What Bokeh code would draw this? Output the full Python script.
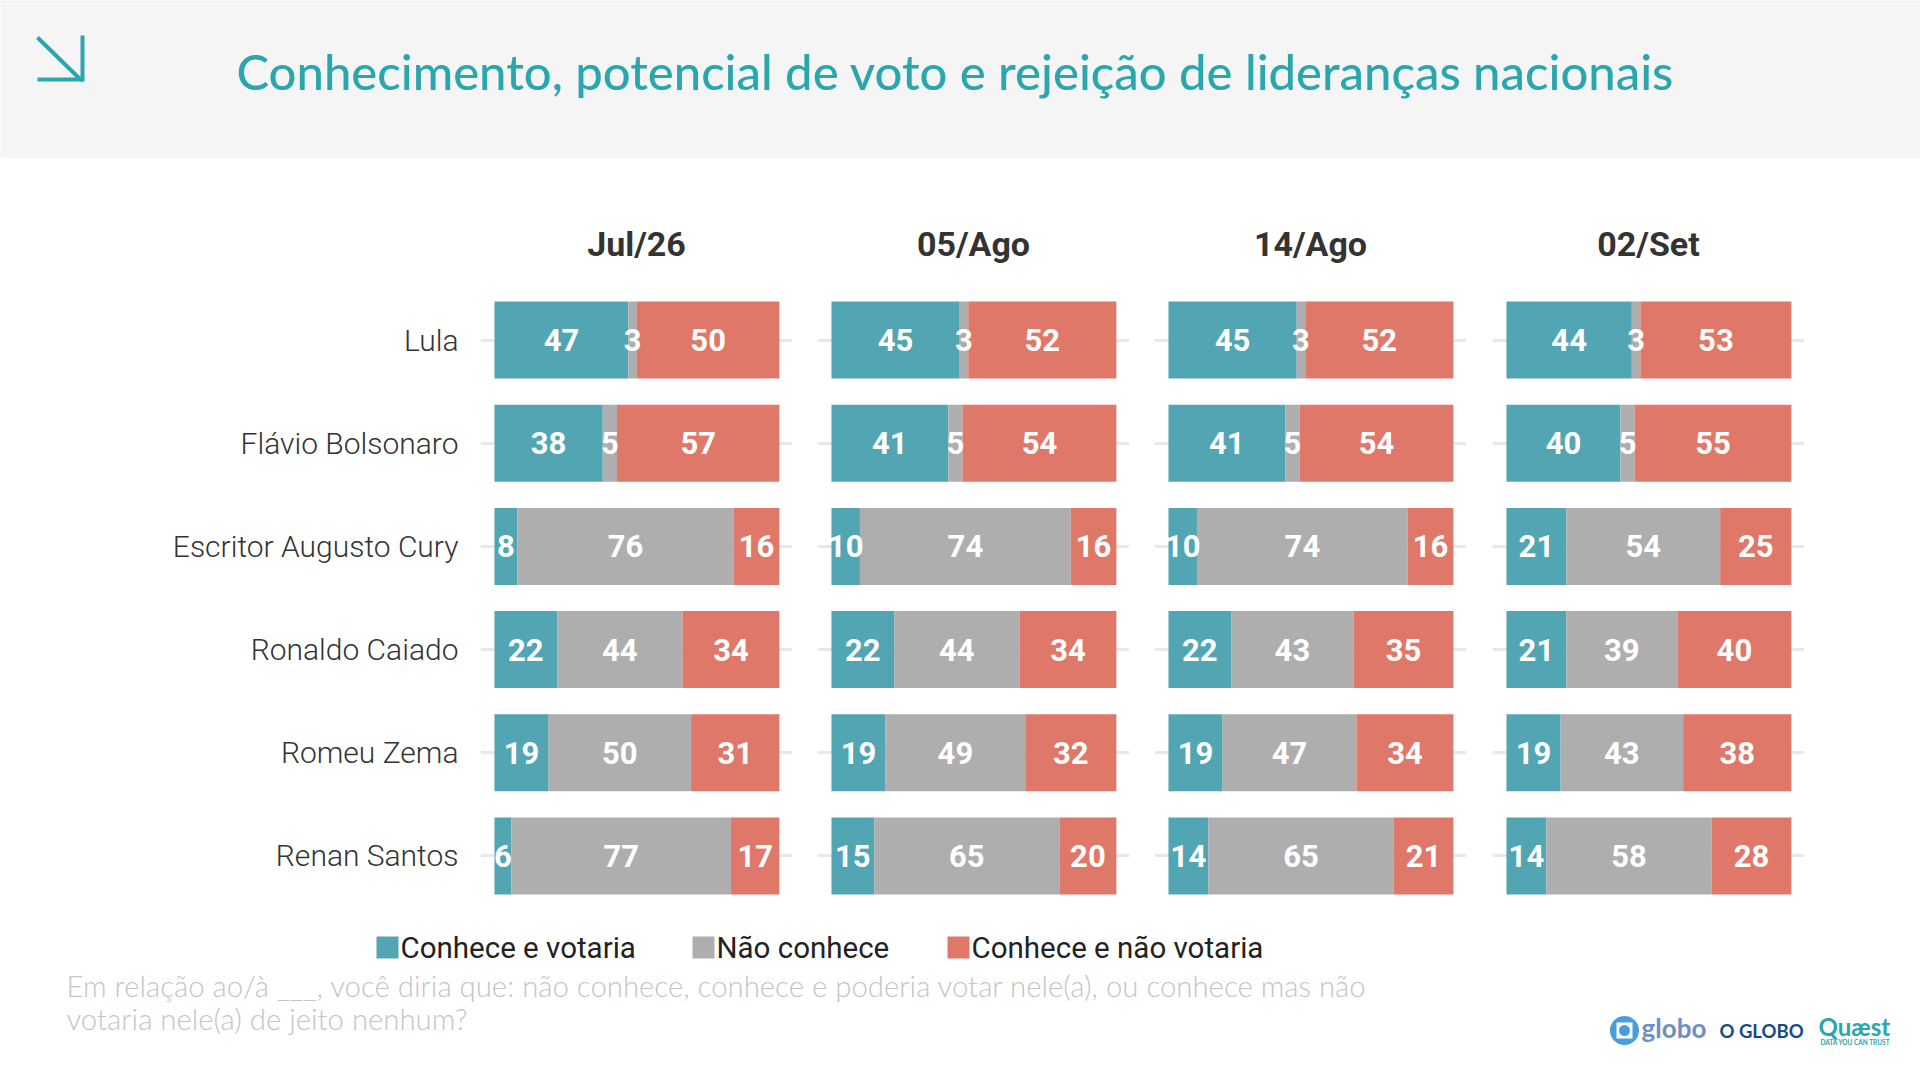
from bokeh.core.properties import value
from bokeh.embed import file_html
from bokeh.resources import INLINE
from bokeh.plotting import figure
from bokeh.layouts import column, row
from bokeh.models import ColumnDataSource, FactorRange, Range1d

TITLE = "Conhecimento, potencial de voto e rejeição de lideranças nacionais"
NAMES = ["Lula", "Flávio Bolsonaro", "Escritor Augusto Cury", "Ronaldo Caiado", "Romeu Zema", "Renan Santos"]
PERIODS = ["Jul/26", "05/Ago", "14/Ago", "02/Set"]
SERIES = ["Conhece e votaria", "Não conhece", "Conhece e não votaria"]
COLORS = ["#52a6b3", "#aeaeae", "#df7868"]

votaria = [
    [47, 38, 8, 22, 19, 6],
    [45, 41, 10, 22, 19, 15],
    [45, 41, 10, 22, 19, 14],
    [44, 40, 21, 21, 19, 14],
]
nao_conhece = [
    [3, 5, 76, 44, 50, 77],
    [3, 5, 74, 44, 49, 65],
    [3, 5, 74, 43, 47, 65],
    [3, 5, 54, 39, 43, 58],
]
nao_votaria = [
    [50, 57, 16, 34, 31, 17],
    [52, 54, 16, 34, 32, 20],
    [52, 54, 16, 35, 34, 21],
    [53, 55, 25, 40, 38, 28],
]
NOTE = [
    "Em relação ao/à ___, você diria que:  não conhece, conhece e poderia votar nele(a), ou conhece mas não",
    "votaria nele(a) de jeito nenhum?",
]

TEAL = "#2aa6ad"


def canvas(h, y0, y1):
    p = figure(width=1920, height=h, x_range=Range1d(0, 1920), y_range=Range1d(y1, y0),
               output_backend="svg", toolbar_location=None,
               min_border=0, min_border_left=0, min_border_right=0, min_border_top=0, min_border_bottom=0)
    p.axis.visible = False
    p.grid.visible = False
    p.outline_line_color = None
    return p


# header
head = canvas(158, 0, 158)
head.background_fill_color = "#f5f5f6"
head.multi_line([[37, 81], [82, 82], [37, 82]], [[37, 80], [35, 81], [79, 79]],
                line_color=TEAL, line_width=4)
head.text([955], [70], [TITLE], text_font=value("Lato Medium"), text_font_size="49px", text_color=TEAL,
          text_align="center", text_baseline="middle")


def panel(i):
    first = i == 0
    last = i == 3
    p = figure(width=792 if first else (338 if last else 337), height=749,
               x_range=Range1d(-4.9, 104.6), y_range=FactorRange(factors=NAMES[::-1], range_padding=0),
               output_backend="svg", toolbar_location=None, title=PERIODS[i],
               min_border_left=480 if first else (26 if last else 25), min_border_right=0,
               min_border_top=130, min_border_bottom=0)
    p.title.align = "center"
    p.title.text_font = "Roboto"
    p.title.text_font_style = "bold"
    p.title.text_font_size = "34px"
    p.title.text_color = "#333333"
    p.title.standoff = 49
    p.outline_line_color = None
    p.xaxis.visible = False
    p.xgrid.visible = False
    p.ygrid.grid_line_color = "#e8e8e8"
    p.ygrid.grid_line_width = 3
    if first:
        p.yaxis.axis_line_color = None
        p.yaxis.major_tick_line_color = None
        p.yaxis.minor_tick_line_color = None
        p.yaxis.major_label_standoff = 16
        p.yaxis.major_label_text_font = "Roboto Light"
        p.yaxis.major_label_text_font_size = "30px"
        p.yaxis.major_label_text_color = "#333333"
    else:
        p.yaxis.visible = False
    a, b, c = votaria[i], nao_conhece[i], nao_votaria[i]
    starts = [[0] * 6, a, [x + y for x, y in zip(a, b)]]
    for vals, left, color in zip((a, b, c), starts, COLORS):
        src = ColumnDataSource(dict(
            name=NAMES, left=left, right=[l + v for l, v in zip(left, vals)]))
        p.hbar(y="name", left="left", right="right", height=0.746, color=color, line_color=None, source=src)
    for vals, left in zip((a, b, c), starts):
        src = ColumnDataSource(dict(name=NAMES, mid=[l + v / 2 for l, v in zip(left, vals)],
                                    label=[str(v) for v in vals]))
        p.text(x="mid", y="name", text="label", source=src, text_color="white", text_font=value("Roboto"),
               text_font_style="bold", text_font_size="31px", text_align="center", text_baseline="middle")
    return p


panels = row(*[panel(i) for i in range(4)], spacing=0)

# legend, note and logos
foot = canvas(168, 907, 1075)
for name, color, sx, tx in zip(SERIES, COLORS, [387, 703, 958], [400, 716, 971]):
    foot.scatter([sx], [947], marker="square", size=22, color=color, line_color=None)
    foot.text([tx], [947], [name], text_font=value("Roboto"), text_font_size="29.5px", text_color="#222222",
              text_align="left", text_baseline="middle")
foot.text([66, 66], [985, 1018], NOTE, text_font=value("Lato Light"), text_font_size="29.35px", text_color="#c4c4c4",
          text_align="left", text_baseline="middle")
foot.scatter([1624], [1030], marker="circle", size=29, color="#4a9ed8", line_color=None)
foot.scatter([1624], [1030], marker="square", size=16, color="white", line_color=None)
foot.scatter([1624], [1030], marker="circle", size=11, color="#4a9ed8", line_color=None)
foot.text([1641], [1027], ["globo"], text_font=value("Lato"), text_font_style="bold", text_font_size="26px",
          text_color="#6d8fc4", text_align="left", text_baseline="middle")
foot.text([1719], [1030], ["O GLOBO"], text_font=value("Lato"), text_font_style="bold", text_font_size="18.5px",
          text_color="#134a8e", text_align="left", text_baseline="middle")
foot.text([1818], [1026], ["Quæst"], text_font=value("Lato"), text_font_style="bold", text_font_size="24px",
          text_color="#2aa6ad", text_align="left", text_baseline="middle")
foot.text([1820], [1042], ["DATA YOU CAN TRUST"], text_font=value("Lato"), text_font_style="bold", text_font_size="6.5px",
          text_color="#2aa6ad", text_align="left", text_baseline="middle")

page = column(head, panels, foot, spacing=0)
open("out.html", "w").write(file_html(page, INLINE))
